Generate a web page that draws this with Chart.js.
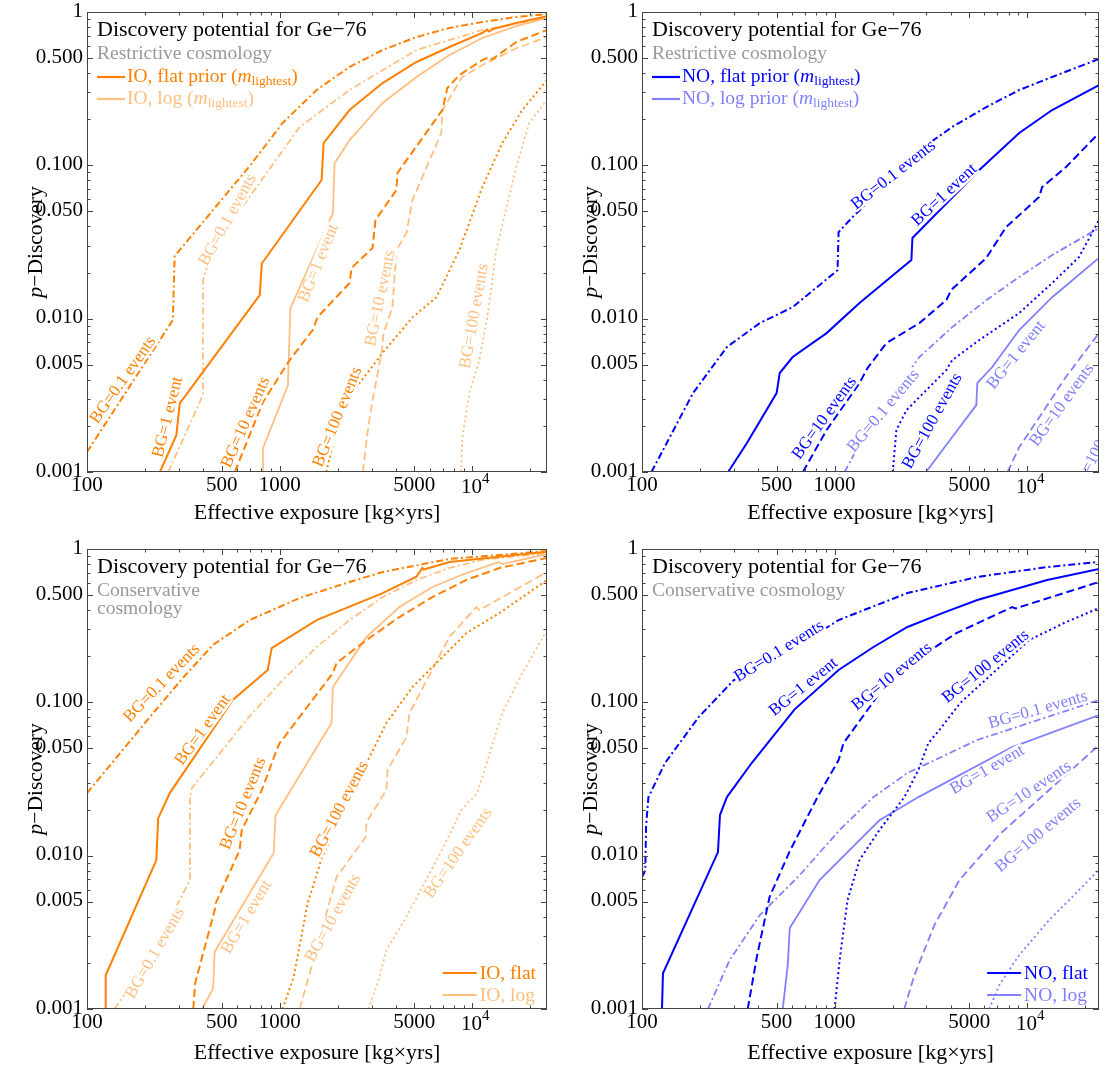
<!DOCTYPE html>
<html>
<head>
<meta charset="utf-8">
<script src="https://cdn.jsdelivr.net/npm/chart.js@4.4.0/dist/chart.umd.min.js"></script>
<style>
  body { margin: 0; background: #fff; }
  #wrap { position: relative; width: 1109px; height: 1072px; }
  canvas { position: absolute; }
</style>
</head>
<body>
<div id="wrap">
  <canvas id="tl" width="555" height="535" style="left:0;top:0"></canvas>
  <canvas id="tr" width="554" height="535" style="left:555px;top:0"></canvas>
  <canvas id="bl" width="555" height="552" style="left:0;top:520px"></canvas>
  <canvas id="br" width="554" height="552" style="left:555px;top:520px"></canvas>
</div>
<script>
// ---- data: [exposure kg*yrs, p-discovery] ----
// IO, restrictive cosmology
const tlFlat01 = [[100,0.00135],[279,0.0098],[285,0.0256],[699,0.099],[1036,0.189],[1555,0.31],[2305,0.438],[3420,0.565],[5130,0.687],[7600,0.787],[11270,0.861],[16900,0.928],[24400,0.97]];
const tlFlat1 = [[239,0.001],[291,0.00174],[303,0.0028],[788,0.01426],[808,0.0229],[1651,0.0802],[1690,0.1397],[2305,0.2295],[3420,0.344],[5130,0.472],[7600,0.591],[11270,0.73],[11900,0.765],[12200,0.745],[12800,0.775],[16900,0.848],[24400,0.94]];
const tlFlat10 = [[585,0.001],[819,0.00286],[1127,0.00537],[1483,0.00843],[1574,0.01024],[2305,0.01707],[2361,0.0214],[3033,0.0289],[3141,0.044],[4036,0.069],[4083,0.089],[6990,0.2295],[7414,0.319],[8562,0.388],[11270,0.486],[12250,0.508],[12600,0.49],[17000,0.64],[24400,0.763]];
const tlFlat100 = [[1746,0.001],[1858,0.00139],[2223,0.00294],[2597,0.0038],[3418,0.00597],[4887,0.0102],[6510,0.0138],[8562,0.028],[11270,0.0722],[14290,0.1397],[18160,0.2295],[24400,0.36]];
const tlLog01 = [[264,0.001],[400,0.00318],[400,0.0178],[450,0.0289],[1270,0.178],[2305,0.31],[5130,0.565],[11270,0.763],[24400,0.914]];
const tlLog1 = [[819,0.001],[819,0.00143],[1104,0.00369],[1136,0.01167],[1888,0.0486],[1928,0.103],[2305,0.146],[3420,0.255],[5130,0.377],[7600,0.524],[11270,0.677],[16900,0.81],[24400,0.914]];
const tlLog10 = [[2702,0.001],[2858,0.00182],[3033,0.00294],[3377,0.00597],[3460,0.00805],[3850,0.0119],[4036,0.028],[4550,0.0362],[4887,0.0594],[6900,0.1625],[6990,0.2295],[8870,0.377],[11270,0.451],[16900,0.58],[24400,0.687]];
const tlLog100 = [[8740,0.001],[8870,0.00169],[9650,0.00327],[10870,0.00537],[11960,0.0102],[13300,0.028],[16900,0.0975],[19720,0.189],[24400,0.267]];

// NO, restrictive cosmology
const trFlat01 = [[112,0.001],[184,0.00327],[276,0.00653],[409,0.00936],[606,0.0119],[1036,0.0207],[1049,0.0367],[1240,0.046],[3105,0.1397],[4083,0.178],[6132,0.24],[9090,0.31],[13480,0.377],[23600,0.494]];
const trFlat1 = [[280,0.001],[350,0.00154],[500,0.00327],[519,0.00442],[606,0.00562],[909,0.00805],[1347,0.01264],[2505,0.0241],[2536,0.0336],[5640,0.0932],[9090,0.1625],[13480,0.2295],[23600,0.334]];
const trFlat10 = [[685,0.001],[909,0.00188],[1347,0.0038],[1483,0.00476],[1858,0.00693],[2756,0.00936],[3801,0.0132],[4036,0.0154],[6132,0.0249],[7780,0.0396],[11540,0.0621],[11960,0.0722],[15920,0.0975],[23600,0.1625]];
const trFlat100 = [[2004,0.001],[2094,0.00188],[2361,0.00253],[2997,0.00342],[3801,0.00462],[4083,0.00537],[5640,0.00725],[9090,0.01088],[13480,0.01707],[18580,0.0252],[23600,0.044]];
const trLog01 = [[1127,0.001],[1483,0.0019],[2756,0.00562],[4083,0.00881],[6132,0.0132],[9090,0.0187],[13480,0.026],[23600,0.039]];
const trLog1 = [[2985,0.001],[4083,0.00169],[5443,0.00273],[5508,0.0038],[6587,0.00484],[9090,0.00843],[13480,0.0138],[23600,0.0249]];
const trLog10 = [[7910,0.001],[9090,0.00145],[12540,0.00265],[14650,0.00358],[15920,0.00418],[23600,0.00805]];
const trLog100 = [[19280,0.001],[23600,0.00145]];

// IO, conservative cosmology
const blFlat01 = [[100,0.0256],[143,0.044],[212,0.0802],[314,0.144],[450,0.2365],[699,0.344],[1270,0.479],[2305,0.609],[3420,0.708],[7600,0.861],[24400,0.97]];
const blFlat1 = [[125,0.001],[125,0.00166],[229,0.00936],[234,0.0175],[269,0.0256],[571,0.1035],[867,0.1625],[909,0.226],[1555,0.344],[3420,0.516],[5130,0.66],[5508,0.752],[5600,0.735],[7600,0.823],[24400,0.96]];
const blFlat10 = [[356,0.001],[364,0.00147],[460,0.00442],[466,0.00491],[620,0.01088],[635,0.0147],[808,0.0268],[964,0.0489],[1000,0.0542],[1888,0.155],[1973,0.1805],[2824,0.255],[4185,0.36],[6205,0.486],[9310,0.628],[13800,0.752],[24400,0.874]];
const blFlat100 = [[1036,0.001],[1182,0.00162],[1285,0.00281],[1396,0.00489],[1662,0.00984],[2824,0.0402],[3580,0.0733],[4887,0.1259],[6990,0.197],[9310,0.283],[13800,0.382],[24400,0.628]];
const blLog01 = [[139,0.001],[213,0.00218],[342,0.00693],[342,0.023],[350,0.0276],[699,0.0814],[1036,0.1397],[1555,0.2295],[2305,0.344],[3420,0.486],[5130,0.628],[7600,0.752],[11270,0.848],[24400,0.94]];
const blLog1 = [[396,0.001],[451,0.00136],[460,0.00236],[931,0.0104],[953,0.0184],[1858,0.0733],[1888,0.1259],[2824,0.267],[4185,0.418],[6205,0.565],[9310,0.697],[13800,0.823],[14290,0.798],[24400,0.928]];
const blLog10 = [[1270,0.001],[1973,0.00725],[2790,0.0132],[2824,0.0166],[3580,0.0268],[3627,0.0362],[4550,0.0594],[4717,0.0851],[7600,0.267],[10490,0.418],[10870,0.4],[24400,0.708]];
const blLog100 = [[2891,0.001],[3296,0.00162],[3580,0.00242],[4446,0.0038],[5508,0.00627],[7075,0.01138],[8770,0.0198],[10610,0.0256],[14290,0.0851],[18160,0.155],[24400,0.296]];

// NO, conservative cosmology
const brFlat01 = [[100,0.00725],[104,0.008],[105,0.0156],[108,0.0241],[131.6,0.0402],[197,0.0802],[300,0.1397],[600,0.22],[1049,0.344],[2389,0.516],[5508,0.657],[12700,0.763],[23600,0.823]];
const brFlat1 = [[127,0.001],[128.5,0.00171],[248,0.01055],[254,0.0184],[276,0.0241],[371,0.0402],[620,0.09],[1049,0.1625],[1592,0.2295],[2389,0.31],[3627,0.382],[5508,0.465],[8360,0.54],[12700,0.628],[23600,0.74]];
const brFlat10 = [[354,0.001],[395,0.0022],[460,0.0054],[585,0.0107],[815,0.0241],[1049,0.042],[1113,0.0542],[2000,0.15],[4287,0.283],[8360,0.418],[8700,0.41],[23600,0.609]];
const brFlat100 = [[1000,0.001],[1062,0.00208],[1167,0.00513],[1347,0.00936],[1710,0.0147],[2305,0.0241],[2723,0.0362],[3068,0.0542],[3500,0.066],[4500,0.0993],[10240,0.255],[15560,0.329],[23600,0.412]];
const brLog01 = [[220,0.001],[285,0.00208],[409,0.0041],[659,0.00747],[1062,0.0147],[1592,0.0241],[2389,0.0346],[5508,0.0568],[23600,0.1035]];
const brLog1 = [[538,0.001],[571,0.00193],[585,0.00337],[836,0.00693],[1196,0.01088],[1710,0.017],[2723,0.0241],[8360,0.0511],[23600,0.0826]];
const brLog10 = [[2300,0.001],[2597,0.00166],[2924,0.00242],[3296,0.00352],[4446,0.00693],[7160,0.0137],[13000,0.0268],[23600,0.0526]];
const brLog100 = [[6350,0.001],[7160,0.00143],[9090,0.00225],[13000,0.0038],[17520,0.00553],[23600,0.0081]];

// curve labels: [x, y, angle deg, text, 0 = flat / 1 = log]
const tlLabels = [
  [154, 0.00398, -55, 'BG=0.1 events', 0], [263, 0.00228, -76, 'BG=1 event', 0],
  [667, 0.00211, -66, 'BG=10 events', 0], [1998, 0.00228, -68, 'BG=100 events', 0],
  [538, 0.044, -61, 'BG=0.1 events', 1], [1592, 0.023, -68, 'BG=1 event', 1],
  [3334, 0.0136, -78, 'BG=10 events', 1], [10240, 0.0104, -80, 'BG=100 events', 1]
];
const trLabels = [
  [2022, 0.0865, -38, 'BG=0.1 events', 0], [3716, 0.064, -43, 'BG=1 event', 0],
  [887, 0.00225, -54, 'BG=10 events', 0], [3223, 0.00215, -61, 'BG=100 events', 0],
  [1795, 0.0025, -50, 'BG=0.1 events', 1], [8770, 0.00579, -51, 'BG=1 event', 1],
  [15170, 0.00273, -54, 'BG=10 events', 1], [23800, 0.00148, -62, 'BG=100 events', 1]
];
const blLabels = [
  [245, 0.1336, -46, 'BG=0.1 events', 0], [400, 0.066, -54, 'BG=1 event', 0],
  [647, 0.0219, -68, 'BG=10 events', 0], [2046, 0.0201, -62, 'BG=100 events', 0],
  [226, 0.00232, -60, 'BG=0.1 events', 1], [675, 0.00398, -59, 'BG=1 event', 1],
  [1893, 0.00392, -61, 'BG=10 events', 1], [8450, 0.0104, -55, 'BG=100 events', 1]
];
const brLabels = [
  [516, 0.2145, -32, 'BG=0.1 events', 0], [690, 0.1259, -39, 'BG=1 event', 0],
  [1988, 0.147, -39, 'BG=10 events', 0], [6095, 0.171, -39, 'BG=100 events', 0],
  [11370, 0.0891, -16, 'BG=0.1 events', 1], [6205, 0.0362, -30, 'BG=1 event', 1],
  [10240, 0.026, -34, 'BG=10 events', 1], [11400, 0.0136, -40, 'BG=100 events', 1]
];

// axis ticks
const xMajor = [100, 500, 1000, 5000, 10000];
const xMajorText = ['100', '500', '1000', '5000', '10^4'];
const xMinor = [200, 300, 400, 600, 700, 800, 900, 2000, 3000, 4000, 6000, 7000, 8000, 9000, 20000];
const yMajor = [0.001, 0.005, 0.01, 0.05, 0.1, 0.5, 1];
const yMajorText = ['0.001', '0.005', '0.010', '0.050', '0.100', '0.500', '1'];
const yMinor = [0.002, 0.003, 0.004, 0.006, 0.007, 0.008, 0.009, 0.02, 0.03, 0.04, 0.06, 0.07, 0.08, 0.09,
                0.2, 0.3, 0.4, 0.6, 0.7, 0.8, 0.9];

const SERIF = '"Liberation Serif", "Times New Roman", serif';
const ORANGE = '#ff8000', ORANGE_L = '#ffbf80';
const BLUE = '#0000ff', BLUE_L = '#8080ff';
const GRAY = '#999999', FRAME = '#444444';
const DASHES = [[7, 3, 2, 3], [], [8, 4], [2, 3]]; // 0.1, 1, 10, 100 events

// draws text made of parts, returns the width
function richText(ctx, x, y, parts, color, measureOnly) {
  let cx = x;
  parts.forEach(p => {
    ctx.font = (p.i ? 'italic ' : '') + p.sz + 'px ' + SERIF;
    if (!measureOnly) {
      ctx.fillStyle = color;
      ctx.fillText(p.t, cx, y + (p.dy || 0));
    }
    cx += ctx.measureText(p.t).width;
  });
  return cx - x;
}

function mlight(prefix) {
  return [{t: prefix, sz: 19.5}, {t: 'm', sz: 19.5, i: true}, {t: 'lightest', sz: 13.5, dy: 3}, {t: ')', sz: 19.5}];
}

const panelPlugin = {
  id: 'panel',
  afterDraw(chart) {
    const P = chart.config.options.plugins.panel;
    const ctx = chart.ctx, a = chart.chartArea;
    const xs = chart.scales.x, ys = chart.scales.y;
    const dark = P.colors[0], light = P.colors[1];

    // curve labels on a white box, clipped to plot area
    ctx.save();
    ctx.beginPath();
    ctx.rect(a.left, a.top, a.right - a.left, a.bottom - a.top);
    ctx.clip();
    ctx.font = '17px ' + SERIF;
    ctx.textAlign = 'center';
    ctx.textBaseline = 'middle';
    P.labels.forEach(l => {
      ctx.save();
      ctx.translate(xs.getPixelForValue(l[0]), ys.getPixelForValue(l[1]));
      ctx.rotate(l[2] * Math.PI / 180);
      const w = ctx.measureText(l[3]).width;
      ctx.fillStyle = '#fff';
      ctx.fillRect(-w / 2 - 1, -7, w + 2, 14);
      ctx.fillStyle = l[4] ? light : dark;
      ctx.fillText(l[3], 0, 0);
      ctx.restore();
    });
    ctx.restore();

    // frame + inward ticks on all sides
    ctx.save();
    ctx.strokeStyle = FRAME;
    ctx.lineWidth = 1;
    ctx.strokeRect(a.left + 0.5, a.top + 0.5, a.right - a.left - 1, a.bottom - a.top - 1);
    ctx.beginPath();
    const tx = (v, len) => {
      const p = Math.round(xs.getPixelForValue(v)) + 0.5;
      ctx.moveTo(p, a.bottom); ctx.lineTo(p, a.bottom - len);
      ctx.moveTo(p, a.top); ctx.lineTo(p, a.top + len);
    };
    const ty = (v, len) => {
      const p = Math.round(ys.getPixelForValue(v)) + 0.5;
      ctx.moveTo(a.left, p); ctx.lineTo(a.left + len, p);
      ctx.moveTo(a.right, p); ctx.lineTo(a.right - len, p);
    };
    xMajor.forEach(v => tx(v, 6));
    xMinor.forEach(v => tx(v, 3.5));
    yMajor.forEach(v => ty(v, 6));
    yMinor.forEach(v => ty(v, 3.5));
    ctx.stroke();

    // tick labels
    ctx.fillStyle = '#000';
    ctx.font = '21px ' + SERIF;
    ctx.textAlign = 'right';
    ctx.textBaseline = 'middle';
    yMajor.forEach((v, i) => ctx.fillText(yMajorText[i], a.left - 4, ys.getPixelForValue(v) - 1));
    ctx.textBaseline = 'alphabetic';
    xMajor.forEach((v, i) => {
      const px = xs.getPixelForValue(v), txt = xMajorText[i];
      if (txt.indexOf('^') > 0) {
        const [b, e] = txt.split('^');
        const parts = [{t: b, sz: 21}, {t: e, sz: 15, dy: -10}];
        ctx.textAlign = 'left';
        const w = richText(ctx, 0, 0, parts, '#000', true);
        richText(ctx, px - w / 2 + 3, a.bottom + P.tickY + 2, parts, '#000');
      } else {
        ctx.textAlign = 'center';
        ctx.font = '21px ' + SERIF;
        ctx.fillText(txt, px, a.bottom + P.tickY);
      }
    });

    // axis titles
    ctx.textAlign = 'center';
    ctx.font = '22px ' + SERIF;
    ctx.fillText('Effective exposure [kg\u00d7yrs]', (a.left + a.right) / 2, a.bottom + P.titleY);
    ctx.save();
    ctx.translate(a.left - 51, (a.top + a.bottom) / 2);
    ctx.rotate(-Math.PI / 2);
    ctx.textAlign = 'left';
    ctx.textBaseline = 'middle';
    const yParts = [{t: 'p', sz: 22, i: true}, {t: '\u2212Discovery', sz: 21.5}];
    const yw = richText(ctx, 0, 0, yParts, '#000', true);
    richText(ctx, -yw / 2, 0, yParts, '#000');
    ctx.restore();

    // title block
    ctx.textAlign = 'left';
    ctx.textBaseline = 'alphabetic';
    ctx.font = '22px ' + SERIF;
    ctx.fillStyle = '#000';
    ctx.fillText('Discovery potential for Ge\u221276', a.left + 10, a.top + 24);
    ctx.font = '19.5px ' + SERIF;
    ctx.fillStyle = GRAY;
    P.sub.forEach((s, i) => ctx.fillText(s, a.left + 10, a.top + 47 + i * 18));

    // legend
    ctx.lineWidth = 2.2;
    if (P.legendTop) {
      P.legend.forEach((parts, i) => {
        const c = i ? light : dark, y = a.top + 65 + i * 22;
        ctx.strokeStyle = c;
        ctx.beginPath(); ctx.moveTo(a.left + 10, y); ctx.lineTo(a.left + 38, y); ctx.stroke();
        richText(ctx, a.left + 40, y + 5, parts, c);
      });
    } else {
      const w = Math.max(...P.legend.map(p => richText(ctx, 0, 0, p, '#000', true)));
      const x0 = a.right - 11 - w - 37;
      P.legend.forEach((parts, i) => {
        const c = i ? light : dark, y = a.bottom - 36 + i * 22;
        ctx.strokeStyle = c;
        ctx.beginPath(); ctx.moveTo(x0, y); ctx.lineTo(x0 + 34, y); ctx.stroke();
        richText(ctx, x0 + 37, y + 6, parts, c);
      });
    }
    ctx.restore();
  }
};

function makePanel(id, curves, colors, xmax, pad, extra) {
  const datasets = curves.map((d, i) => ({
    data: d.map(p => ({x: p[0], y: p[1]})),
    borderColor: i < 4 ? colors[0] : colors[1],
    borderWidth: i < 4 ? 2 : 1.8,
    borderDash: DASHES[i % 4],
    pointRadius: 0,
    tension: 0,
    fill: false
  }));
  return new Chart(document.getElementById(id), {
    type: 'line',
    data: {datasets},
    options: {
      responsive: false,
      animation: false,
      events: [],
      layout: {padding: pad},
      scales: {
        x: {type: 'logarithmic', min: 100, max: xmax, display: false},
        y: {type: 'logarithmic', min: 0.001, max: 1, display: false}
      },
      plugins: {
        legend: {display: false},
        tooltip: {enabled: false},
        panel: Object.assign({colors}, extra)
      }
    },
    plugins: [panelPlugin]
  });
}

const ORANGES = [ORANGE, ORANGE_L], BLUES = [BLUE, BLUE_L];
const XMAX_L = 24400, XMAX_R = 23600;

makePanel('tl', [tlFlat01, tlFlat1, tlFlat10, tlFlat100, tlLog01, tlLog1, tlLog10, tlLog100], ORANGES, XMAX_L,
  {left: 87, top: 12, right: 8, bottom: 63},
  {labels: tlLabels, sub: ['Restrictive cosmology'], legendTop: true, tickY: 19, titleY: 47,
   legend: [mlight('IO, flat prior ('), mlight('IO, log (')]});

makePanel('tr', [trFlat01, trFlat1, trFlat10, trFlat100, trLog01, trLog1, trLog10, trLog100], BLUES, XMAX_R,
  {left: 87, top: 12, right: 10, bottom: 63},
  {labels: trLabels, sub: ['Restrictive cosmology'], legendTop: true, tickY: 19, titleY: 47,
   legend: [mlight('NO, flat prior ('), mlight('NO, log prior (')]});

makePanel('bl', [blFlat01, blFlat1, blFlat10, blFlat100, blLog01, blLog1, blLog10, blLog100], ORANGES, XMAX_L,
  {left: 87, top: 29, right: 8, bottom: 63},
  {labels: blLabels, sub: ['Conservative', 'cosmology'], legendTop: false, tickY: 19, titleY: 50,
   legend: [[{t: 'IO, flat', sz: 19.5}], [{t: 'IO, log', sz: 19.5}]]});

makePanel('br', [brFlat01, brFlat1, brFlat10, brFlat100, brLog01, brLog1, brLog10, brLog100], BLUES, XMAX_R,
  {left: 87, top: 29, right: 10, bottom: 63},
  {labels: brLabels, sub: ['Conservative cosmology'], legendTop: false, tickY: 19, titleY: 50,
   legend: [[{t: 'NO, flat', sz: 19.5}], [{t: 'NO, log', sz: 19.5}]]});
</script>
</body>
</html>
